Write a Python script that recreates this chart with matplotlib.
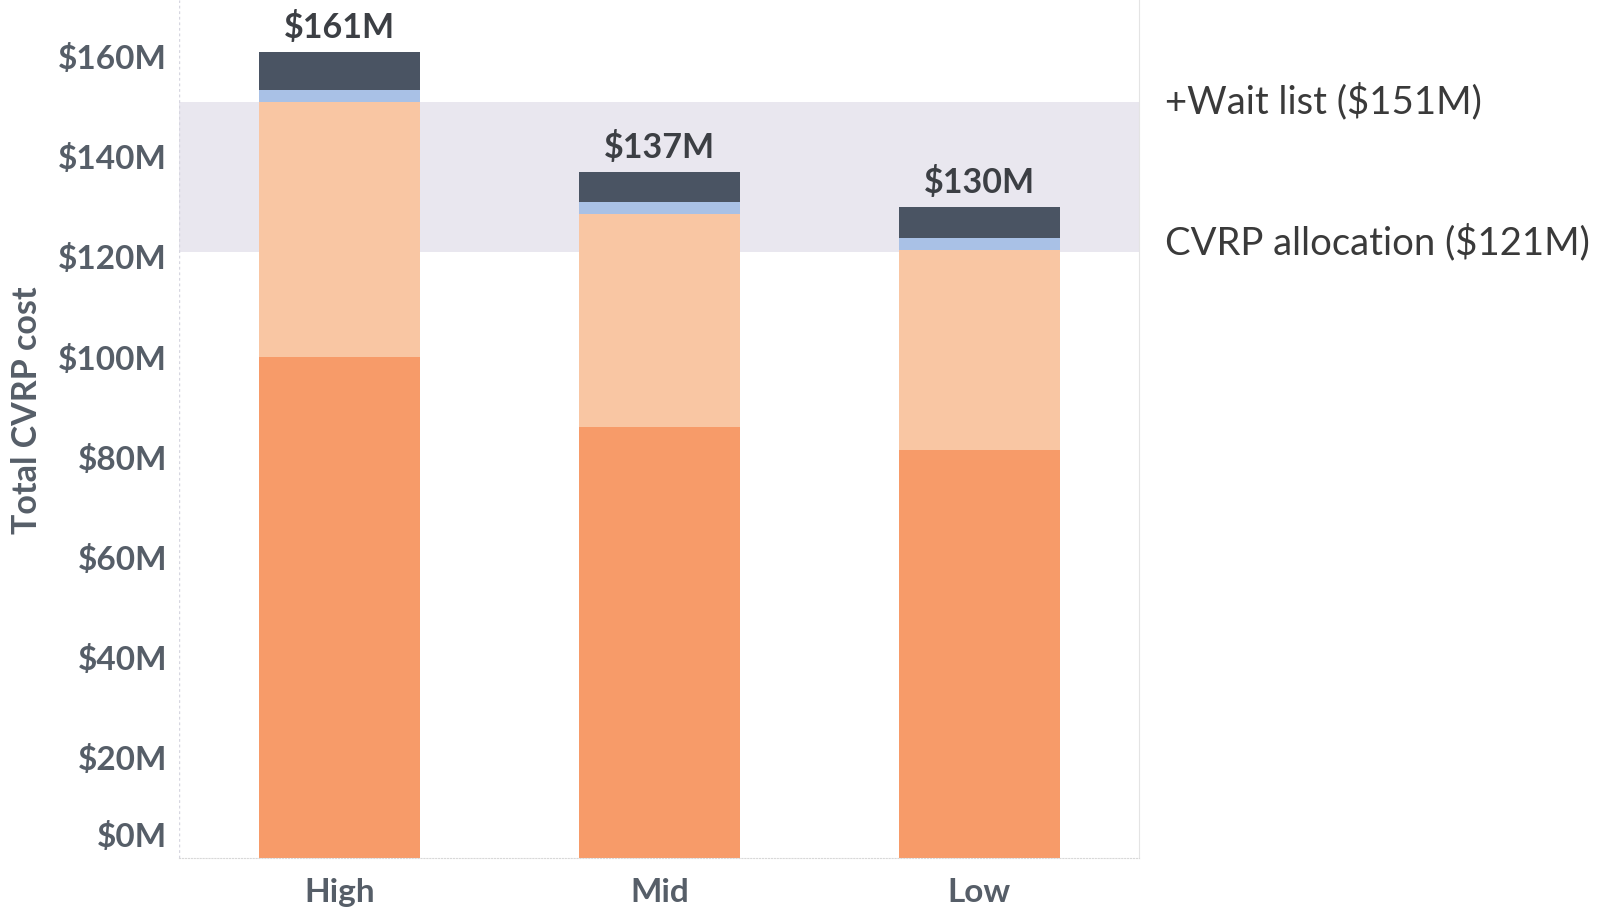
import numpy as np
import matplotlib.pyplot as plt
from matplotlib.transforms import blended_transform_factory

# scenarios and stacked cost components ($M)
scenarios = ['High', 'Mid', 'Low']
base_cost = [100.0, 86.0, 81.4]
extra_cost = [51.0, 42.5, 40.0]
small_cost = [2.4, 2.5, 2.4]
top_cost = [7.6, 6.0, 6.2]
seg_colors = ['#f79b69', '#f9c6a3', '#a9c1e6', '#4a5463']

allocation = 121
wait_list = 151
ref_labels = ['CVRP allocation ($121M)', '+Wait list ($151M)']
yticks = [0, 20, 40, 60, 80, 100, 120, 140, 160]

plt.rcParams['font.family'] = ['Lato', 'DejaVu Sans']
txt_col = '#565e68'

fig = plt.figure(figsize=(15.98, 9.11), dpi=100)
ax = fig.add_axes([0.1123, 0.058, 0.6007, 0.942])

x = np.arange(len(scenarios))
# shaded band between allocation and wait list
ax.axhspan(allocation, wait_list, color='#e9e7ef', zorder=0, lw=0)

bottom = np.zeros(len(scenarios))
for vals, c in zip([base_cost, extra_cost, small_cost, top_cost], seg_colors):
    ax.bar(x, vals, width=0.503, bottom=bottom, color=c, zorder=2, lw=0)
    bottom += np.array(vals)

for xi, tot in zip(x, bottom):
    ax.text(xi, tot + 1.5, '$%dM' % round(tot), ha='center', va='bottom',
            fontsize=24.5, fontweight='bold', color='#3c3f44')

ax.set_xlim(-0.5, 2.5)
ax.set_ylim(0, 171.3)
ax.set_xticks(x)
ax.set_xticklabels(scenarios, fontsize=24, fontweight='bold', color=txt_col)
ax.set_yticks(yticks)
ylabs = ['$%dM' % v for v in yticks]
ax.set_yticklabels([''] + ylabs[1:], fontsize=24, fontweight='bold', color=txt_col)
ax.tick_params(axis='x', length=0, pad=14)
ax.tick_params(axis='y', length=0, pad=9)
# zero label sits a bit higher, like the original
ax.annotate(ylabs[0], xy=(0, yticks[0]), xycoords=('axes fraction', 'data'),
            xytext=(-9, 15), textcoords='offset points', ha='right', va='center',
            fontsize=24, fontweight='bold', color=txt_col)

for s in ['top', 'left']:
    ax.spines[s].set_visible(False)
ax.spines['right'].set_color('#e4e4e4')
ax.spines['bottom'].set_color('#d8d8d8')
ax.spines['bottom'].set_linestyle(':')
ax.axvline(-0.5, color='#d6d6e0', lw=1, ls=(0, (2, 2)), zorder=1)

tr = blended_transform_factory(ax.transAxes, ax.transData)
ax.text(1.027, wait_list, ref_labels[1], transform=tr, va='center', ha='left',
        fontsize=27.5, fontweight='normal', color='#3a3a3a')
ax.text(1.027, allocation + 2, ref_labels[0], transform=tr, va='center', ha='left',
        fontsize=27.5, fontweight='normal', color='#3a3a3a')

fig.text(0.017, 0.55, 'Total CVRP cost', rotation=90, ha='center', va='center',
         fontsize=24.5, fontweight='bold', color=txt_col)

fig.savefig('out.png', dpi=100)
